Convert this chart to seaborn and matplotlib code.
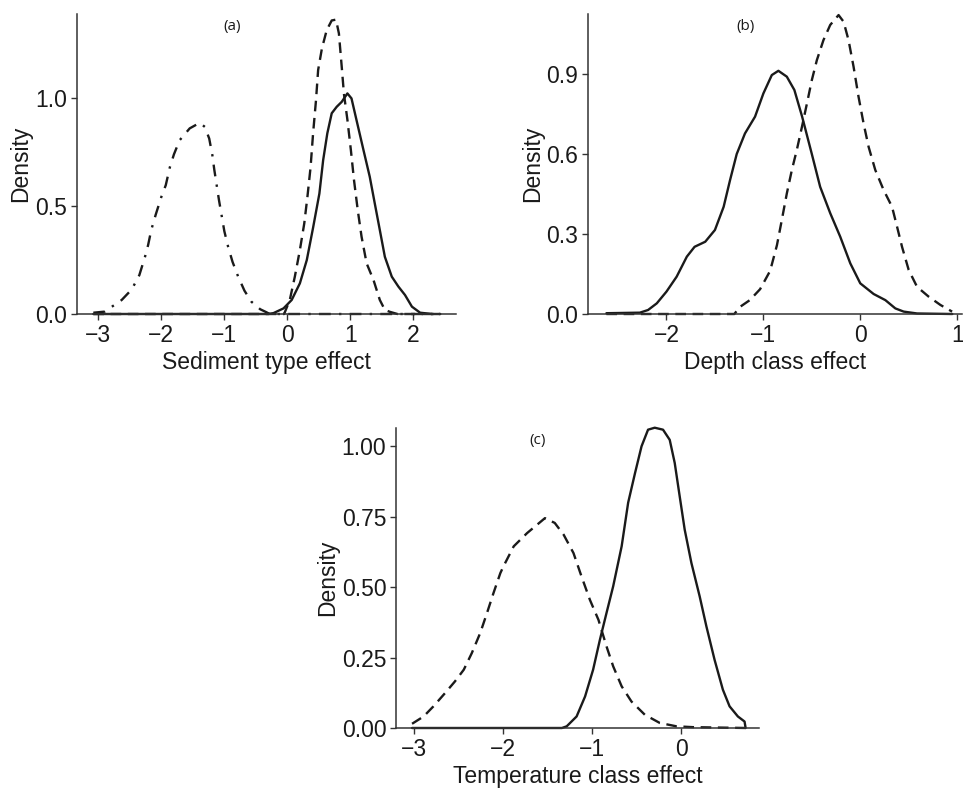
import matplotlib
matplotlib.use("Agg")
import matplotlib.pyplot as plt
import seaborn as sns

sns.set_theme(style="ticks")
plt.rcParams['font.family'] = ['Liberation Sans', 'DejaVu Sans']

# ---- Panel (a): Sediment type effect ----
a_dashdot_x = [-3.08, -2.90, -2.63, -2.47, -2.35, -2.26, -2.21, -2.16, -2.09, -2.00, -1.93, -1.865, -1.80, -1.71,
               -1.55, -1.39, -1.31, -1.24, -1.19, -1.16, -1.085, -1.00, -0.94, -0.87, -0.78, -0.68, -0.57, -0.43,
               -0.33, -0.28, 2.43]
a_dashdot_y = [0.006, 0.011, 0.065, 0.114, 0.18, 0.265, 0.32, 0.39, 0.46, 0.543, 0.597, 0.68, 0.74, 0.805,
               0.86, 0.886, 0.867, 0.813, 0.736, 0.67, 0.528, 0.384, 0.312, 0.242, 0.173, 0.108, 0.057, 0.022,
               0.008, 0.0, 0.0]
a_dashed_x = [-3.08, -0.05, 0.04, 0.12, 0.20, 0.27, 0.32, 0.37, 0.41, 0.456, 0.49, 0.55, 0.626, 0.706, 0.774,
              0.82, 0.865, 0.90, 0.955, 1.01, 1.06, 1.12, 1.18, 1.26, 1.37, 1.47, 1.55, 1.63, 1.75, 2.43]
a_dashed_y = [0.0, 0.0, 0.065, 0.173, 0.296, 0.42, 0.543, 0.68, 0.837, 0.99, 1.13, 1.23, 1.315, 1.36, 1.364,
              1.30, 1.145, 1.02, 0.90, 0.76, 0.62, 0.48, 0.358, 0.235, 0.157, 0.065, 0.019, 0.01, 0.0, 0.0]
a_solid_x = [-3.08, -0.30, -0.22, -0.06, 0.07, 0.20, 0.31, 0.41, 0.51, 0.57, 0.636, 0.706, 0.785, 0.865, 0.955,
             1.02, 1.10, 1.21, 1.31, 1.39, 1.47, 1.55, 1.66, 1.765, 1.87, 1.98, 2.11, 2.30, 2.43]
a_solid_y = [0.0, 0.0, 0.004, 0.026, 0.065, 0.142, 0.25, 0.40, 0.558, 0.713, 0.837, 0.93, 0.96, 0.983, 1.022,
             0.999, 0.898, 0.76, 0.636, 0.512, 0.389, 0.265, 0.173, 0.127, 0.088, 0.034, 0.006, 0.0, 0.0]

# ---- Panel (b): Depth class effect ----
b_solid_x = [-2.62, -2.275, -2.19, -2.10, -2.00, -1.895, -1.79, -1.71, -1.60, -1.50, -1.41, -1.344, -1.275,
             -1.19, -1.086, -1.0, -0.913, -0.845, -0.758, -0.68, -0.60, -0.50, -0.414, -0.31, -0.207, -0.103,
             0.0, 0.138, 0.259, 0.362, 0.448, 0.586, 0.95]
b_solid_y = [0.003, 0.005, 0.015, 0.04, 0.084, 0.14, 0.215, 0.252, 0.271, 0.315, 0.402, 0.502, 0.60,
             0.677, 0.74, 0.827, 0.896, 0.912, 0.89, 0.84, 0.74, 0.60, 0.477, 0.378, 0.29, 0.19,
             0.115, 0.075, 0.052, 0.021, 0.009, 0.002, 0.0]
b_dashed_x = [-2.62, -1.30, -1.24, -1.14, -1.034, -0.93, -0.86, -0.81, -0.758, -0.706, -0.655, -0.603, -0.55,
              -0.50, -0.448, -0.38, -0.31, -0.224, -0.172, -0.121, -0.069, -0.018, 0.034, 0.086, 0.155,
              0.241, 0.328, 0.38, 0.431, 0.50, 0.586, 0.706, 0.827, 0.948]
b_dashed_y = [0.0, 0.0, 0.027, 0.052, 0.093, 0.162, 0.258, 0.352, 0.452, 0.54, 0.615, 0.70, 0.79,
              0.877, 0.952, 1.027, 1.084, 1.121, 1.096, 1.027, 0.927, 0.815, 0.715, 0.627, 0.54,
              0.465, 0.402, 0.327, 0.252, 0.165, 0.102, 0.065, 0.034, 0.009]

# ---- Panel (c): Temperature class effect ----
c_dashed_x = [-3.02, -2.89, -2.78, -2.65, -2.54, -2.44, -2.35, -2.256, -2.18, -2.107, -2.03, -1.995, -1.88,
              -1.73, -1.53, -1.42, -1.32, -1.21, -1.12, -1.026, -0.93, -0.84, -0.765, -0.67, -0.56, -0.41,
              -0.243, -0.056, 0.13, 0.73]
c_dashed_y = [0.015, 0.041, 0.077, 0.124, 0.165, 0.207, 0.266, 0.337, 0.408, 0.479, 0.55, 0.574, 0.645,
              0.692, 0.745, 0.728, 0.686, 0.621, 0.538, 0.455, 0.384, 0.29, 0.219, 0.148, 0.094, 0.047,
              0.018, 0.006, 0.003, 0.0]
c_solid_x = [-3.02, -1.34, -1.286, -1.175, -1.08, -0.99, -0.914, -0.84, -0.765, -0.67, -0.597, -0.52, -0.447,
             -0.374, -0.299, -0.206, -0.131, -0.075, -0.019, 0.037, 0.112, 0.205, 0.28, 0.372, 0.465, 0.54,
             0.633, 0.708, 0.72]
c_solid_y = [0.0, 0.0, 0.006, 0.041, 0.112, 0.207, 0.313, 0.408, 0.503, 0.645, 0.80, 0.905, 1.0,
             1.059, 1.066, 1.059, 1.023, 0.941, 0.822, 0.704, 0.586, 0.467, 0.361, 0.242, 0.136, 0.077,
             0.041, 0.023, 0.0]

a_xticks = [-3, -2, -1, 0, 1, 2]
a_yticks = [0.0, 0.5, 1.0]
b_xticks = [-2, -1, 0, 1]
b_yticks = [0.0, 0.3, 0.6, 0.9]
c_xticks = [-3, -2, -1, 0]
c_yticks = [0.0, 0.25, 0.5, 0.75, 1.0]

W, H = 963, 791
fig = plt.figure(figsize=(W / 100, H / 100), dpi=100)

def make_ax(l, r, t, b):
    return fig.add_axes([l / W, 1 - b / H, (r - l) / W, (b - t) / H])

DASH = (0, (4.5, 2.8))
DASHDOT = (0, (5, 3.5, 1, 3.5))
LW = 1.7

def curve(ax, x, y, ls):
    sns.lineplot(x=x, y=y, ax=ax, color='#1a1a1a', linewidth=LW, linestyle=ls,
                 sort=False, estimator=None, solid_joinstyle='round', dash_joinstyle='round',
                 clip_on=False)

def style(ax, xlim, ylim, xt, yt, ylabels, xlabel, tag, tagx):
    ax.set_xlim(*xlim)
    ax.set_ylim(*ylim)
    ax.set_xticks(xt)
    ax.set_xticklabels([f"{v:d}".replace('-', '\u2212') for v in xt])
    ax.set_yticks(yt)
    ax.set_yticklabels(ylabels)
    ax.tick_params(labelsize=16.5, length=4, width=1, color='#333333', labelcolor='#1a1a1a', pad=3)
    ax.set_xlabel(xlabel, fontsize=16.5, color='#1a1a1a', labelpad=3)
    ax.set_ylabel("Density", fontsize=16.5, color='#1a1a1a', labelpad=2)
    sns.despine(ax=ax)
    for s in ['left', 'bottom']:
        ax.spines[s].set_color('#333333')
        ax.spines[s].set_linewidth(1.1)
    ax.text(tagx, 0.958, tag, transform=ax.transAxes, ha='center', va='center',
            fontsize=11, family=['Open Sans', 'DejaVu Sans'], color='#1a1a1a')

# Panel (a)
ax1 = make_ax(77, 456, 14, 314)
curve(ax1, a_dashdot_x, a_dashdot_y, DASHDOT)
curve(ax1, a_dashed_x, a_dashed_y, DASH)
curve(ax1, a_solid_x, a_solid_y, '-')
style(ax1, (-3.34, 2.68), (0, 1.39), a_xticks, a_yticks, ["0.0", "0.5", "1.0"],
      "Sediment type effect", "(a)", 0.41)

# Panel (b)
ax2 = make_ax(588, 962, 14, 314)
curve(ax2, b_dashed_x, b_dashed_y, DASH)
curve(ax2, b_solid_x, b_solid_y, '-')
style(ax2, (-2.81, 1.05), (0, 1.125), b_xticks, b_yticks, ["0.0", "0.3", "0.6", "0.9"],
      "Depth class effect", "(b)", 0.42)

# Panel (c)
ax3 = make_ax(396, 759, 428, 728)
curve(ax3, c_dashed_x, c_dashed_y, DASH)
curve(ax3, c_solid_x, c_solid_y, '-')
style(ax3, (-3.20, 0.87), (0, 1.065), c_xticks, c_yticks, ["0.00", "0.25", "0.50", "0.75", "1.00"],
      "Temperature class effect", "(c)", 0.39)

fig.savefig("out.png", dpi=100)
